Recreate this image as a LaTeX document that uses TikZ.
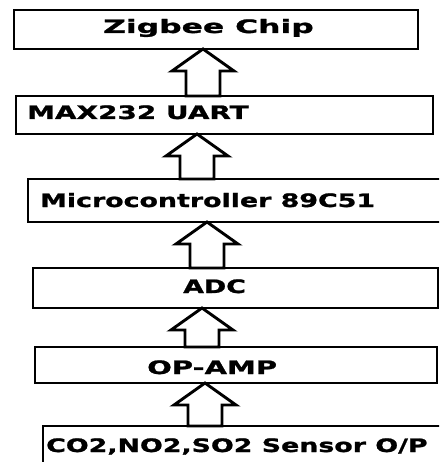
\documentclass[tikz,border=0pt]{standalone}
\usepackage{fontspec}
\newfontfamily\blockfont{DejaVu Sans}[FakeStretch=1.45, BoldFeatures={FakeBold=1.3}]
\usepackage{tikz}
\usetikzlibrary{calc,positioning}

% hollow block arrow from the top of the lower box to the bottom of the upper box
\newcommand{\flowarrow}[3]{%
\coordinate (tip) at (#1,0 |- #3.south);
\coordinate (foot) at (#1,0 |- #2.north);
\draw[bigarrow] (tip) -- ++(-31,22) -- ++(14,0) |- ($(foot)+(17,0)$) -- ($(tip)+(17,22)$) -- ++(14,0) -- cycle;
}

\begin{document}
\begin{tikzpicture}[x=1pt, y=-1pt,
  blk/.style={draw, line width=1.8pt, fill=white, outer sep=0pt, inner sep=0pt, anchor=north west},
  lbl/.style={inner sep=0pt, anchor=base west, font=\blockfont\bfseries\fontsize{18.5}{20}\selectfont},
  bigarrow/.style={draw, line width=2.9pt, fill=white, line join=miter}]
\useasboundingbox (0,0) rectangle (439,462);
\clip (0,0) rectangle (439,462);
%
\node[blk, minimum width=404, minimum height=39] (zig) at (14,10) {};
\node[blk, minimum width=417, minimum height=38] (uart) at (16,96) {};
\node[blk, minimum width=420, minimum height=43] (mcu) at (28,179) {};
\node[blk, minimum width=405, minimum height=40] (adc) at (33,268) {};
\node[blk, minimum width=402, minimum height=36] (amp) at (35,347) {};
\node[blk, minimum width=410, minimum height=50] (sensor) at (43,426) {};
%
\node[lbl] (zigtxt) at (103,33) {\scalebox{1.17}[1]{Zigbee Chip}};
\node[lbl] (uarttxt) at (27,119) {\scalebox{1.04}[1]{MAX232 UART}};
\node[lbl] (mcutxt) at (40,207) {Microcontroller 89C51};
\node[lbl] (adctxt) at (183,293) {ADC};
\node[lbl] (amptxt) at (147,374) {\scalebox{1.08}[1]{OP-AMP}};
\node[lbl] (sensortxt) at (46,452) {CO2,NO2,SO2 Sensor O/P};
%
\flowarrow{203}{uart}{zig}
\flowarrow{197}{mcu}{uart}
\flowarrow{207}{adc}{mcu}
\flowarrow{202}{amp}{adc}
\flowarrow{205}{sensor}{amp}
%
\end{tikzpicture}
\end{document}
